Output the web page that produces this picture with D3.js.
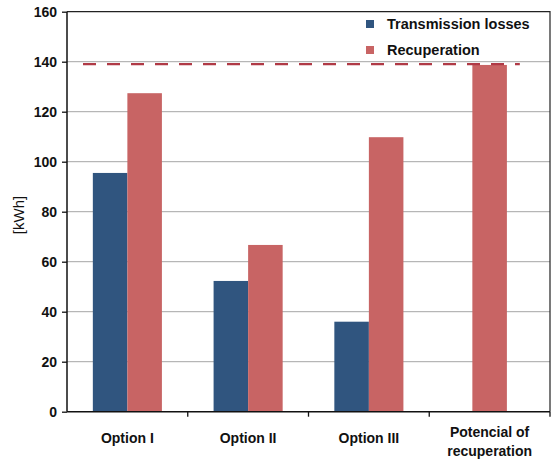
<!DOCTYPE html>
<html><head><meta charset="utf-8">
<script src="https://cdn.jsdelivr.net/npm/d3@7/dist/d3.min.js"></script>
<style>body{margin:0;background:#fff}svg{display:block}text{font-family:Arial,"Liberation Sans",sans-serif}</style>
</head><body><div id="chart"></div>
<script>
const categories = ["Option I", "Option II", "Option III", "Potencial of|recuperation"];
const seriesNames = ["Transmission losses", "Recuperation"];
const transmissionLosses = [95.5, 52.3, 36.0, null];
const recuperation = [127.4, 66.7, 109.8, 138.7];
const potentialLine = 139;
const yTicks = [0, 20, 40, 60, 80, 100, 120, 140, 160];
const colors = ["#30557f", "#c86464"];

const W = 553, H = 462;
const m = {l: 67, r: 3, t: 11.7, b: 50.3};
const svg = d3.select("#chart").append("svg").attr("width", W).attr("height", H);

const x0 = d3.scaleBand().domain(categories).range([m.l, W - m.r]).paddingInner(0).paddingOuter(0);
const bw = x0.bandwidth();
const x1 = d3.scaleBand().domain(seriesNames).range([bw * 0.214, bw * 0.786]);
const y = d3.scaleLinear().domain([0, 160]).range([H - m.b, m.t]);

// gridlines
svg.append("g").selectAll("line").data(yTicks.filter(t => t > 0 && t < 160)).join("line")
  .attr("x1", m.l).attr("x2", W - m.r).attr("y1", d => y(d)).attr("y2", d => y(d))
  .attr("stroke", "#a6a6a6").attr("stroke-width", 1);

// border top/right
svg.append("path").attr("d", `M${m.l},${y(160)}H${W - m.r}V${y(0)}`).attr("fill", "none").attr("stroke", "#222").attr("stroke-width", 1.2);

// bars
const rows = categories.map((c, i) => ({c, vals: [transmissionLosses[i], recuperation[i]]}));
const g = svg.append("g");
rows.forEach(r => {
  const present = r.vals.map((v, k) => ({v, k})).filter(d => d.v != null);
  present.forEach(d => {
    let xx;
    if (present.length === 1) xx = x0(r.c) + (bw - x1.bandwidth()) / 2;
    else xx = x0(r.c) + x1(seriesNames[d.k]);
    g.append("rect").attr("x", xx).attr("width", x1.bandwidth())
      .attr("y", y(d.v)).attr("height", y(0) - y(d.v)).attr("fill", colors[d.k]);
  });
});

// dashed potential line
svg.append("line").attr("x1", m.l + 16).attr("x2", x0(categories[3]) + bw * 0.75)
  .attr("y1", y(potentialLine)).attr("y2", y(potentialLine))
  .attr("stroke", "#b03a46").attr("stroke-width", 2.2).attr("stroke-dasharray", "13,11");

// y axis
const ya = svg.append("g").attr("transform", `translate(${m.l},0)`)
  .call(d3.axisLeft(y).tickValues(yTicks).tickSize(5).tickPadding(5));
ya.select(".domain").attr("stroke", "#111").attr("stroke-width", 1.5).attr("d", `M0,${y(0)}V${y(160)}`);
ya.selectAll(".tick line").attr("stroke", "#111").attr("stroke-width", 1.3);
ya.selectAll("text").attr("font-size", 14).attr("font-weight", "bold").attr("fill", "#111").attr("font-family", "Arial, Liberation Sans, sans-serif");

// x axis
const xa = svg.append("g").attr("transform", `translate(0,${y(0)})`);
xa.append("line").attr("x1", m.l).attr("x2", W - m.r).attr("stroke", "#111").attr("stroke-width", 1.5);
xa.selectAll(".tk").data(categories.slice(1).map(c => x0(c)).concat([W - m.r])).join("line")
  .attr("x1", d => d).attr("x2", d => d).attr("y1", 0).attr("y2", 5).attr("stroke", "#111").attr("stroke-width", 1.3);
categories.forEach(c => {
  const parts = c.split("|");
  const t = svg.append("text").attr("text-anchor", "middle").attr("font-size", 14).attr("font-weight", "bold").attr("fill", "#111");
  const cx = x0(c) + bw / 2;
  if (parts.length === 1) t.attr("x", cx).attr("y", 443).text(parts[0]);
  else parts.forEach((p, i) => t.append("tspan").attr("x", cx).attr("y", 437 + i * 19).text(p));
});

// y label
svg.append("text").attr("transform", "translate(24,215) rotate(-90)").attr("text-anchor", "middle")
  .attr("font-size", 15).attr("fill", "#111").text("[kWh]");

// legend
const lg = svg.append("g");
seriesNames.forEach((s, i) => {
  lg.append("rect").attr("x", 366).attr("y", 20 + i * 26).attr("width", 8).attr("height", 8).attr("fill", colors[i]);
  lg.append("text").attr("x", 387).attr("y", 29 + i * 26).attr("font-size", 14.5).attr("font-weight", "bold").attr("fill", "#111").text(s);
});
</script></body></html>
